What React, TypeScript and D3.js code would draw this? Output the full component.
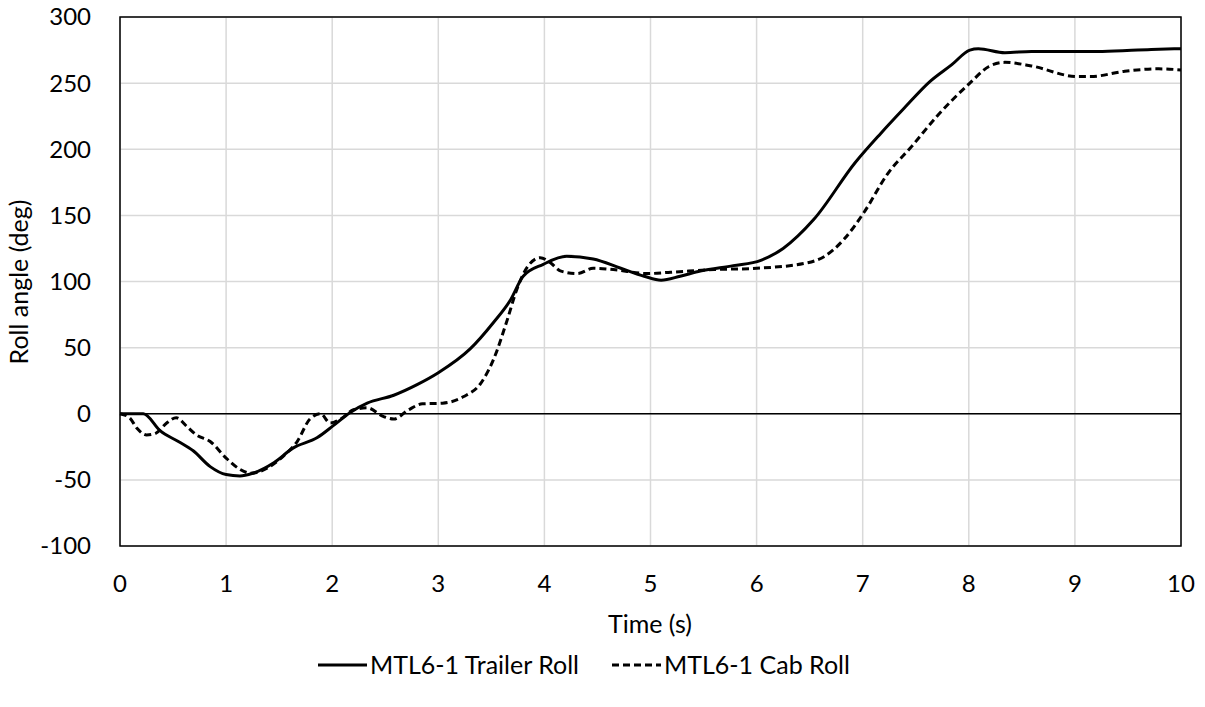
import * as d3 from "d3";
import { useEffect, useRef } from "react";

// trailer roll (solid line)
const trailerTime = [
  0, 0.22, 0.38, 0.55, 0.69, 0.85, 1.0, 1.13, 1.25, 1.45, 1.63, 1.86, 2.01, 2.17,
  2.33, 2.58, 2.8, 3.0, 3.3, 3.52, 3.68, 3.8, 3.99, 4.21, 4.46, 4.72, 4.94, 5.1,
  5.28, 5.47, 5.78, 6.04, 6.25, 6.54, 6.93, 7.17, 7.39, 7.63, 7.84, 8.01, 8.09,
  8.34, 8.59, 9.26, 9.72, 10,
];
const trailerRoll = [
  0, 0, -13, -21, -28, -40, -46, -47, -45, -37, -26, -18, -9, 1, 8, 14, 22, 31,
  49, 69, 86, 104, 113, 119, 117, 110, 104, 101, 104, 108, 112, 116, 125, 147,
  190, 212, 231, 251, 264, 275, 276, 273, 274, 274, 275.5, 276,
];

// cab roll (dashed line)
const cabTime = [
  0, 0.09, 0.16, 0.25, 0.34, 0.44, 0.53, 0.63, 0.72, 0.85, 1.0, 1.13, 1.23, 1.39,
  1.54, 1.67, 1.79, 1.89, 1.98, 2.08, 2.2, 2.33, 2.48, 2.58, 2.72, 2.85, 3.04,
  3.24, 3.4, 3.52, 3.65, 3.74, 3.84, 3.96, 4.06, 4.15, 4.31, 4.46, 4.65, 4.97,
  5.19, 5.6, 6.0, 6.47, 6.64, 6.82, 7.01, 7.24, 7.46, 7.7, 8.01, 8.19, 8.34,
  8.59, 9.02, 9.15, 9.47, 9.79, 10,
];
const cabRoll = [
  0, -3, -11, -16, -14.6, -7, -3, -9.6, -16, -21, -33.5, -42, -45, -41, -32, -21,
  -4, 0, -7, -4, 3, 4.5, -2, -4, 3, 7.5, 8, 13, 23, 41, 71, 94, 111, 118, 114,
  108, 106, 110, 109, 106, 107, 109, 110, 114, 119, 131.6, 152, 182, 202, 225,
  250, 262.6, 265.7, 263, 255, 255, 259, 260.8, 260,
];

const xTicks = [0, 1, 2, 3, 4, 5, 6, 7, 8, 9, 10];
const yTicks = [-100, -50, 0, 50, 100, 150, 200, 250, 300];
const seriesNames = ["MTL6-1 Trailer Roll", "MTL6-1 Cab Roll"];

const App = () => {
  const svgRef = useRef<SVGSVGElement>(null);

  useEffect(() => {
    const svg = d3.select(svgRef.current);
    svg.selectAll("*").remove();

    const left = 120,
      right = 1181,
      top = 17,
      bottom = 546;
    const font = "Lato, 'Open Sans', sans-serif";
    const fs = 24;

    const x = d3.scaleLinear().domain([0, 10]).range([left, right]);
    const y = d3.scaleLinear().domain([-100, 300]).range([bottom, top]);

    // grid
    const grid = svg.append("g").attr("stroke", "#d9d9d9").attr("stroke-width", 1.5);
    grid
      .selectAll("line.v")
      .data(xTicks)
      .enter()
      .append("line")
      .attr("x1", (d) => x(d))
      .attr("x2", (d) => x(d))
      .attr("y1", top)
      .attr("y2", bottom);
    grid
      .selectAll("line.h")
      .data(yTicks)
      .enter()
      .append("line")
      .attr("x1", left)
      .attr("x2", right)
      .attr("y1", (d) => y(d))
      .attr("y2", (d) => y(d));

    // zero line
    svg
      .append("line")
      .attr("x1", left)
      .attr("x2", right)
      .attr("y1", y(0))
      .attr("y2", y(0))
      .attr("stroke", "#000")
      .attr("stroke-width", 1.5);

    // plot border
    svg
      .append("rect")
      .attr("x", left)
      .attr("y", top)
      .attr("width", right - left)
      .attr("height", bottom - top)
      .attr("fill", "none")
      .attr("stroke", "#000")
      .attr("stroke-width", 1.5);

    // tick labels
    svg
      .append("g")
      .selectAll("text")
      .data(yTicks)
      .enter()
      .append("text")
      .attr("x", 91)
      .attr("y", (d) => y(d))
      .attr("dy", "0.35em")
      .attr("text-anchor", "end")
      .attr("font-family", font)
      .attr("font-size", fs)
      .attr("fill", "#000")
      .text((d) => d);
    svg
      .append("g")
      .selectAll("text")
      .data(xTicks)
      .enter()
      .append("text")
      .attr("x", (d) => x(d))
      .attr("y", 592)
      .attr("text-anchor", "middle")
      .attr("font-family", font)
      .attr("font-size", fs)
      .attr("fill", "#000")
      .text((d) => d);

    // axis titles
    svg
      .append("text")
      .attr("transform", "translate(28," + 282 + ") rotate(-90)")
      .attr("text-anchor", "middle")
      .attr("font-family", font)
      .attr("font-size", fs + 1)
      .text("Roll angle (deg)");
    svg
      .append("text")
      .attr("x", 650)
      .attr("y", 633)
      .attr("text-anchor", "middle")
      .attr("font-family", font)
      .attr("font-size", fs + 1)
      .text("Time (s)");

    // lines
    const line = d3
      .line<[number, number]>()
      .x((d) => x(d[0]))
      .y((d) => y(d[1]))
      .curve(d3.curveMonotoneX);

    const trailer = trailerTime.map((t, i) => [t, trailerRoll[i]] as [number, number]);
    const cab = cabTime.map((t, i) => [t, cabRoll[i]] as [number, number]);

    svg
      .append("path")
      .attr("d", line(cab))
      .attr("fill", "none")
      .attr("stroke", "#000")
      .attr("stroke-width", 3)
      .attr("stroke-dasharray", "7,4");
    svg
      .append("path")
      .attr("d", line(trailer))
      .attr("fill", "none")
      .attr("stroke", "#000")
      .attr("stroke-width", 3);

    // legend
    const legendY = 665;
    const items = [
      { x0: 318, dash: null },
      { x0: 612, dash: "7,4" },
    ];
    items.forEach((it, i) => {
      svg
        .append("line")
        .attr("x1", it.x0)
        .attr("x2", it.x0 + 49)
        .attr("y1", legendY)
        .attr("y2", legendY)
        .attr("stroke", "#000")
        .attr("stroke-width", 3)
        .attr("stroke-dasharray", it.dash);
      svg
        .append("text")
        .attr("x", it.x0 + 52)
        .attr("y", 674)
        .attr("font-family", font)
        .attr("font-size", fs + 1)
        .text(seriesNames[i]);
    });
  }, []);

  return (
    <svg
      ref={svgRef}
      width={1205}
      height={707}
      style={{ position: "absolute", left: 0, top: 0, background: "#fff" }}
    ></svg>
  );
};

export default App;
